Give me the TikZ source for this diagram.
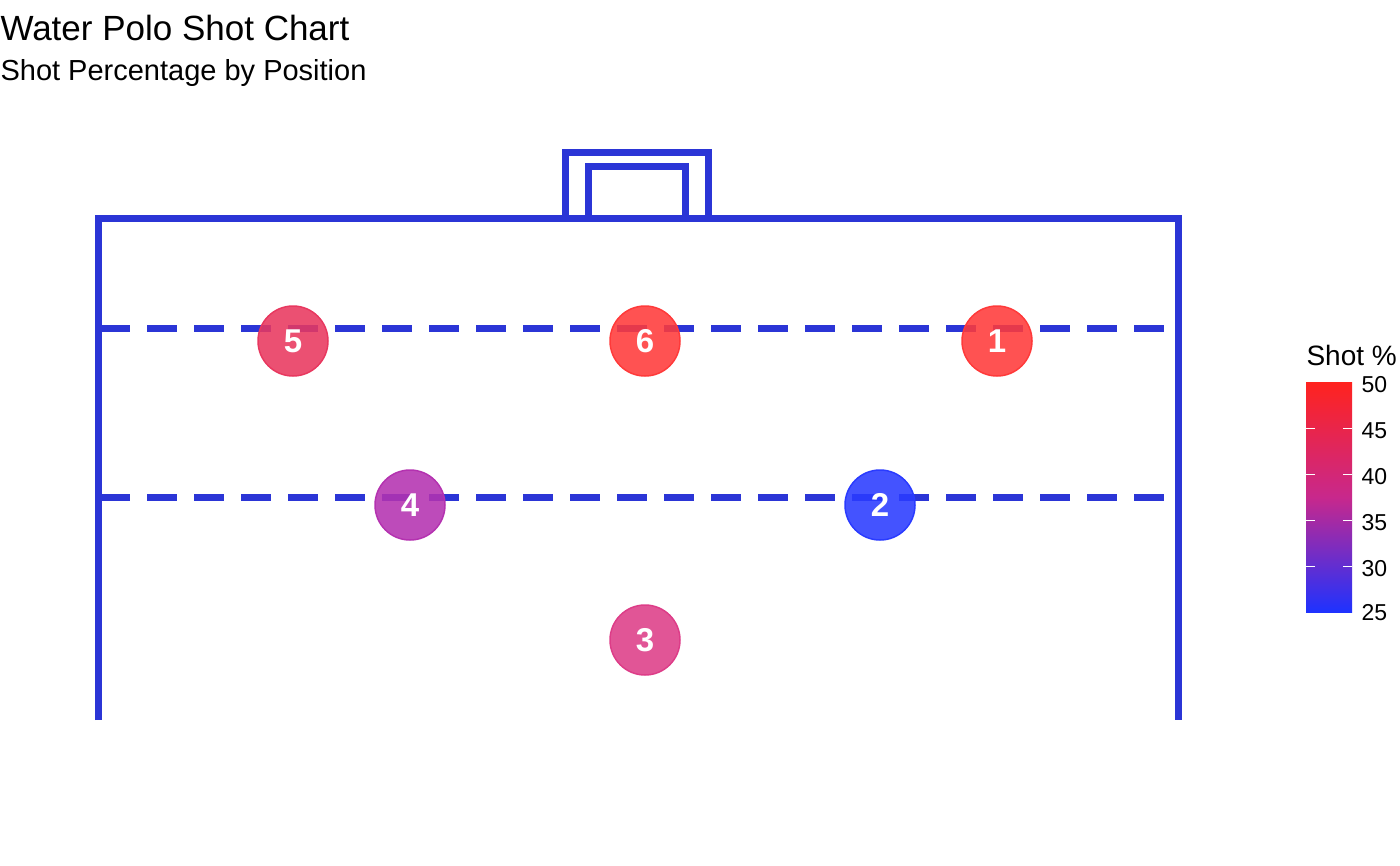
\documentclass[tikz,border=0pt]{standalone}
\usepackage{fontspec}
\setmainfont{Liberation Sans}
\usetikzlibrary{positioning}
\definecolor{court}{HTML}{2B35D6}
\definecolor{pctA}{HTML}{FF3A3A}
\definecolor{pctB}{HTML}{E8385F}
\definecolor{pctC}{HTML}{DD3D88}
\definecolor{pctD}{HTML}{B432B0}
\definecolor{pctE}{HTML}{2A3BFF}
\tikzset{
  line/.style={draw=court, line width=7pt},
  half/.style={draw=court, line width=7pt, dash pattern=on 30pt off 17pt},
  player/.style={circle, minimum size=70pt, inner sep=0pt, fill opacity=0.88,
    line width=1.5pt, text opacity=1, text=white, font=\fontsize{33}{36}\selectfont\bfseries},
  tick/.style={font=\fontsize{23}{26}\selectfont, anchor=west}
}
\begin{document}
\begin{tikzpicture}[x=1pt, y=-1pt]
    \useasboundingbox (0,0) rectangle (1400,865);
    %% Titles
    \node[anchor=west, font=\fontsize{35}{40}\selectfont] (title) at (-3,28) {Water Polo Shot Chart};
    \node[anchor=west, font=\fontsize{29}{34}\selectfont] (sub) at (-3,73) {Shot Percentage by Position};
    %% Court
    \draw[line] (98,720) -- (98,218) -- (1178,218) -- (1178,720);
    \draw[line] (565,218) -- (565,152) -- (708,152) -- (708,218);
    \draw[line] (588,218) -- (588,166) -- (685,166) -- (685,218);
    \draw[half] (100,328) -- (1178,328);
    \draw[half] (100,497) -- (1178,497);
    %% Players
    \node[player, fill=pctB, draw=pctB] (p5) at (293,341) {5};
    \node[player, fill=pctA, draw=pctA] (p6) at (645,341) {6};
    \node[player, fill=pctA, draw=pctA] (p1) at (997,341) {1};
    \node[player, fill=pctD, draw=pctD] (p4) at (410,505) {4};
    \node[player, fill=pctE, draw=pctE] (p2) at (880,505) {2};
    \node[player, fill=pctC, draw=pctC] (p3) at (645,640) {3};
    %% Legend
    \node[anchor=west, font=\fontsize{28}{32}\selectfont] (leg) at (1303,355) {Shot \%};
    \shade[top color={rgb,255:red,255;green,35;blue,30}, bottom color={rgb,255:red,30;green,50;blue,255},
      middle color={rgb,255:red,200;green,40;blue,140}] (1306,382) rectangle (1352,612);
    \foreach \v/\y in {50/385,45/431,40/477,35/523,30/569,25/613} {
      \node[tick] (t\v) at (1358,\y) {\v};
    }
    \foreach \y in {428,474,520,566} {
      \draw[white, line width=1pt] (1306,\y) -- (1315,\y);
      \draw[white, line width=1pt] (1343,\y) -- (1352,\y);
    }
\end{tikzpicture}
\end{document}
